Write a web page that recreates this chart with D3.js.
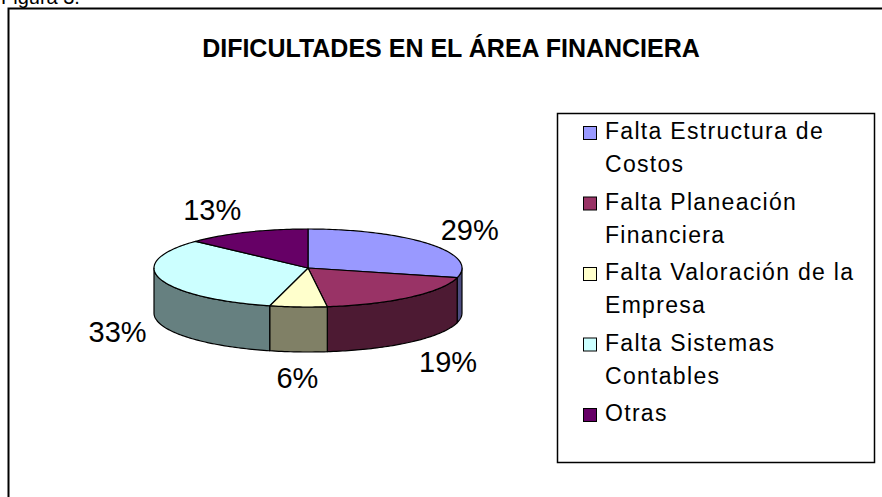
<!DOCTYPE html>
<html>
<head>
<meta charset="utf-8">
<script src="https://cdn.jsdelivr.net/npm/d3@7"></script>
<style>
  body { margin: 0; background: #fff; }
  svg { display: block; }
</style>
</head>
<body>
<script>
// chart data
var categories = ['Falta Estructura de Costos', 'Falta Planeación Financiera',
                  'Falta Valoración de la Empresa', 'Falta Sistemas Contables', 'Otras'];
var values = [29, 19, 6, 33, 13];
var legendLines = [['Falta Estructura de', 'Costos'],
                   ['Falta Planeación', 'Financiera'],
                   ['Falta Valoración de la', 'Empresa'],
                   ['Falta Sistemas', 'Contables'],
                   ['Otras']];
var colors = ['#9999FF', '#993366', '#FFFFCC', '#CCFFFF', '#660066'];
var title = 'DIFICULTADES EN EL ÁREA FINANCIERA';

var width = 882, height = 497,
    cx = 308, cy = 268,
    rx = 154, ry = 39,
    depth = 45,
    labelGap = 14;

var svg = d3.select('body').append('svg')
    .attr('width', width)
    .attr('height', height);

// caption cut off at the top of the page
svg.append('text')
    .attr('x', 1).attr('y', 4)
    .style('font-family', 'Arial, "Liberation Sans", sans-serif')
    .style('font-size', '20px')
    .text('Figura 3.');

// chart area frame
svg.append('rect')
    .attr('x', 8.5).attr('y', 8.5)
    .attr('width', 1000).attr('height', 1000)
    .style('fill', 'none')
    .style('stroke', '#000')
    .style('stroke-width', '2px');

svg.append('text')
    .attr('x', 451).attr('y', 57)
    .attr('text-anchor', 'middle')
    .style('font-family', 'Arial, "Liberation Sans", sans-serif')
    .style('font-weight', 'bold')
    .style('font-size', '25px')
    .text(title);

var color = d3.scaleOrdinal().domain(categories).range(colors);
function sideColor(c) {
    var k = d3.rgb(c);
    return d3.rgb(k.r / 2, k.g / 2, k.b / 2).toString();
}

var pie = d3.pie().sort(null).value(function(d){ return d.value; });
var arcs = pie(categories.map(function(c, i){ return {name: c, value: values[i]}; }));

function pt(a, dy) {
    return [cx + rx * Math.sin(a), cy - ry * Math.cos(a) + (dy || 0)];
}
function arcPoints(a0, a1, dy) {
    var n = Math.max(2, Math.ceil(Math.abs(a1 - a0) / 0.02));
    return d3.range(n + 1).map(function(i){ return pt(a0 + (a1 - a0) * i / n, dy); });
}
var line = d3.line();

// side walls (only the front half of the ellipse is visible)
var g = svg.append('g');
arcs.forEach(function(d) {
    var s = Math.max(d.startAngle, Math.PI / 2),
        e = Math.min(d.endAngle, Math.PI * 3 / 2);
    if (e <= s) return;
    var pts = arcPoints(s, e, 0).concat(arcPoints(e, s, depth));
    g.append('path')
        .attr('d', line(pts) + 'Z')
        .style('fill', sideColor(color(d.data.name)))
        .style('stroke', '#000')
        .style('stroke-width', '1.2px')
        .style('stroke-linejoin', 'round');
});

// top faces
g.selectAll('path.top')
    .data(arcs).enter()
    .append('path').attr('class', 'top')
    .attr('d', function(d){
        return line([[cx, cy]].concat(arcPoints(d.startAngle, d.endAngle, 0))) + 'Z';
    })
    .style('fill', function(d){ return color(d.data.name); })
    .style('stroke', '#000')
    .style('stroke-width', '1.2px')
    .style('stroke-linejoin', 'round');

// percentage labels
var labelSize = 29;
svg.selectAll('text.pct')
    .data(arcs).enter()
    .append('text').attr('class', 'pct')
    .each(function(d) {
        var a = (d.startAngle + d.endAngle) / 2,
            s = Math.sin(a), c = Math.cos(a),
            x = cx + (rx + labelGap) * s,
            y = cy - (ry + labelGap) * c + (c < 0 ? depth : 0),
            capH = labelSize * 0.75;
        d3.select(this)
            .attr('x', x)
            .attr('y', y + capH * (1 - c) / 2)
            .attr('text-anchor', s > 0.2 ? 'start' : (s < -0.2 ? 'end' : 'middle'));
    })
    .style('font-family', 'Arial, "Liberation Sans", sans-serif')
    .style('font-size', labelSize + 'px')
    .text(function(d){ return d.data.value + '%'; });

// legend
svg.append('rect')
    .attr('x', 557.5).attr('y', 113.5)
    .attr('width', 317).attr('height', 349)
    .style('fill', '#fff')
    .style('stroke', '#000')
    .style('stroke-width', '1.5px');

var legendY = d3.scaleLinear().domain([0, categories.length - 1]).range([139, 421]);
var entry = svg.selectAll('g.legend-entry')
    .data(categories).enter()
    .append('g').attr('class', 'legend-entry')
    .attr('transform', function(d, i){ return 'translate(0,' + legendY(i) + ')'; });

entry.append('rect')
    .attr('x', 583.5).attr('y', -12.5)
    .attr('width', 13).attr('height', 13)
    .style('fill', function(d){ return color(d); })
    .style('stroke', '#000')
    .style('stroke-width', '1px');

entry.append('text')
    .attr('x', 605)
    .style('font-family', 'Arial, "Liberation Sans", sans-serif')
    .style('font-size', '23px')
    .style('letter-spacing', '1.3px')
    .selectAll('tspan')
    .data(function(d, i){ return legendLines[i]; }).enter()
    .append('tspan')
    .attr('x', 605)
    .attr('y', function(d, j){ return j * 33; })
    .text(function(d){ return d; });
</script>
</body>
</html>
